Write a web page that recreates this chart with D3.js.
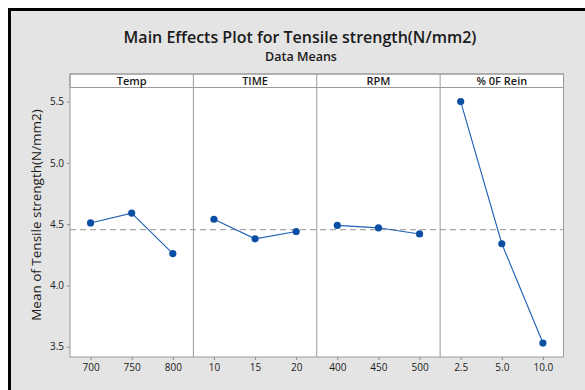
<!DOCTYPE html>
<html>
<head>
<meta charset="utf-8">
<script src="https://cdn.jsdelivr.net/npm/d3@7"></script>
<style>
  html, body { margin: 0; padding: 0; background: #ffffff; }
  svg { display: block; }
  text { font-family: "Open Sans", "Noto Sans", sans-serif; fill: #1a1a1a; }
</style>
</head>
<body>
<svg id="chart" width="585" height="390"></svg>
<script>
// Factors and their levels
const factors = ["Temp", "TIME", "RPM", "% 0F Rein"];
const levelLabels = [
  ["700", "750", "800"],
  ["10", "15", "20"],
  ["400", "450", "500"],
  ["2.5", "5.0", "10.0"]
];
// Mean tensile strength at each level
const tempMeans = [4.51, 4.59, 4.26];
const timeMeans = [4.54, 4.38, 4.44];
const rpmMeans  = [4.49, 4.47, 4.42];
const reinMeans = [5.50, 4.34, 3.53];
const seriesMeans = [tempMeans, timeMeans, rpmMeans, reinMeans];
const grandMean = 4.456;
const yTicks = [3.5, 4.0, 4.5, 5.0, 5.5];

const svg = d3.select("#chart");
const W = 585, H = 390;

// Frame: white margin, black top/left edge, grey canvas
svg.append("rect").attr("x", 0).attr("y", 0).attr("width", W).attr("height", H).attr("fill", "#ffffff");
svg.append("rect").attr("x", 8).attr("y", 8).attr("width", W - 8).attr("height", H - 8).attr("fill", "#000000");
svg.append("rect").attr("x", 11).attr("y", 11).attr("width", W - 11).attr("height", H - 11).attr("fill", "#e4e4e4");

const plotLeft = 70, plotRight = 563.5, stripTop = 74, plotTop = 87.5, plotBottom = 357;

const y = d3.scaleLinear().domain([3.416, 5.615]).range([plotBottom, plotTop]);
const panel = d3.scaleBand().domain(factors).range([plotLeft, plotRight]).padding(0);

// Titles
svg.append("text").attr("x", 300).attr("y", 42.5).attr("text-anchor", "middle")
  .attr("font-size", 16).attr("font-weight", 600)
  .text("Main Effects Plot for Tensile strength(N/mm2)");
svg.append("text").attr("x", 301).attr("y", 61).attr("text-anchor", "middle")
  .attr("font-size", 12.5).attr("font-weight", 600)
  .text("Data Means");

// White plotting region and strip
svg.append("rect").attr("x", plotLeft).attr("y", plotTop).attr("width", plotRight - plotLeft)
  .attr("height", plotBottom - plotTop).attr("fill", "#ffffff");
svg.append("rect").attr("x", plotLeft).attr("y", stripTop).attr("width", plotRight - plotLeft)
  .attr("height", plotTop - stripTop).attr("fill", "#ffffff")
  .attr("stroke", "#9a9a9a").attr("stroke-width", 1);

// Reference line at the grand mean
svg.append("line").attr("x1", plotLeft).attr("x2", plotRight)
  .attr("y1", y(grandMean)).attr("y2", y(grandMean))
  .attr("stroke", "#a8a8a8").attr("stroke-width", 1.2).attr("stroke-dasharray", "6,4");

// Y axis
const yAxis = d3.axisLeft(y).tickValues(yTicks).tickFormat(d3.format(".1f")).tickSize(3).tickPadding(3);
const gy = svg.append("g").attr("transform", `translate(${plotLeft},0)`).call(yAxis);
gy.select(".domain").remove();
gy.selectAll(".tick line").attr("stroke", "#8a8a8a");
gy.selectAll(".tick text").attr("font-size", 10).attr("fill", "#1a1a1a")
  .attr("font-family", "'Open Sans', 'Noto Sans', sans-serif");

// Y axis title
svg.append("text").attr("transform", `translate(41,215) rotate(-90)`)
  .attr("text-anchor", "middle").attr("font-size", 13.5)
  .text("Mean of Tensile strength(N/mm2)");

const lineGen = d3.line();

factors.forEach((f, i) => {
  const x0 = panel(f);
  const bw = panel.bandwidth();
  const x = d3.scalePoint().domain(levelLabels[i]).range([x0, x0 + bw]).padding(0.5);

  // Strip label
  svg.append("text").attr("x", x0 + bw / 2).attr("y", 84.5).attr("text-anchor", "middle")
    .attr("font-size", 11).attr("font-weight", 600).text(f);

  // X axis for this panel
  const xAxis = d3.axisBottom(x).tickSize(3).tickPadding(4);
  const gx = svg.append("g").attr("transform", `translate(0,${plotBottom})`).call(xAxis);
  gx.select(".domain").remove();
  gx.selectAll(".tick line").attr("stroke", "#8a8a8a");
  gx.selectAll(".tick text").attr("font-size", 10).attr("fill", "#1a1a1a")
    .attr("font-family", "'Open Sans', 'Noto Sans', sans-serif");

  const pts = levelLabels[i].map((lv, j) => [x(lv), y(seriesMeans[i][j])]);
  svg.append("path").attr("d", lineGen(pts)).attr("fill", "none")
    .attr("stroke", "#1f5fb4").attr("stroke-width", 1.1);
  svg.selectAll(null).data(pts).enter().append("circle")
    .attr("cx", d => d[0]).attr("cy", d => d[1]).attr("r", 3.6)
    .attr("fill", "#0a4fa3");
});

// Panel dividers and outer frame
factors.slice(1).forEach(f => {
  svg.append("line").attr("x1", panel(f)).attr("x2", panel(f))
    .attr("y1", stripTop).attr("y2", plotBottom).attr("stroke", "#9a9a9a").attr("stroke-width", 1);
});
svg.append("rect").attr("x", plotLeft).attr("y", stripTop).attr("width", plotRight - plotLeft)
  .attr("height", plotBottom - stripTop).attr("fill", "none")
  .attr("stroke", "#9a9a9a").attr("stroke-width", 1);
</script>
</body>
</html>
